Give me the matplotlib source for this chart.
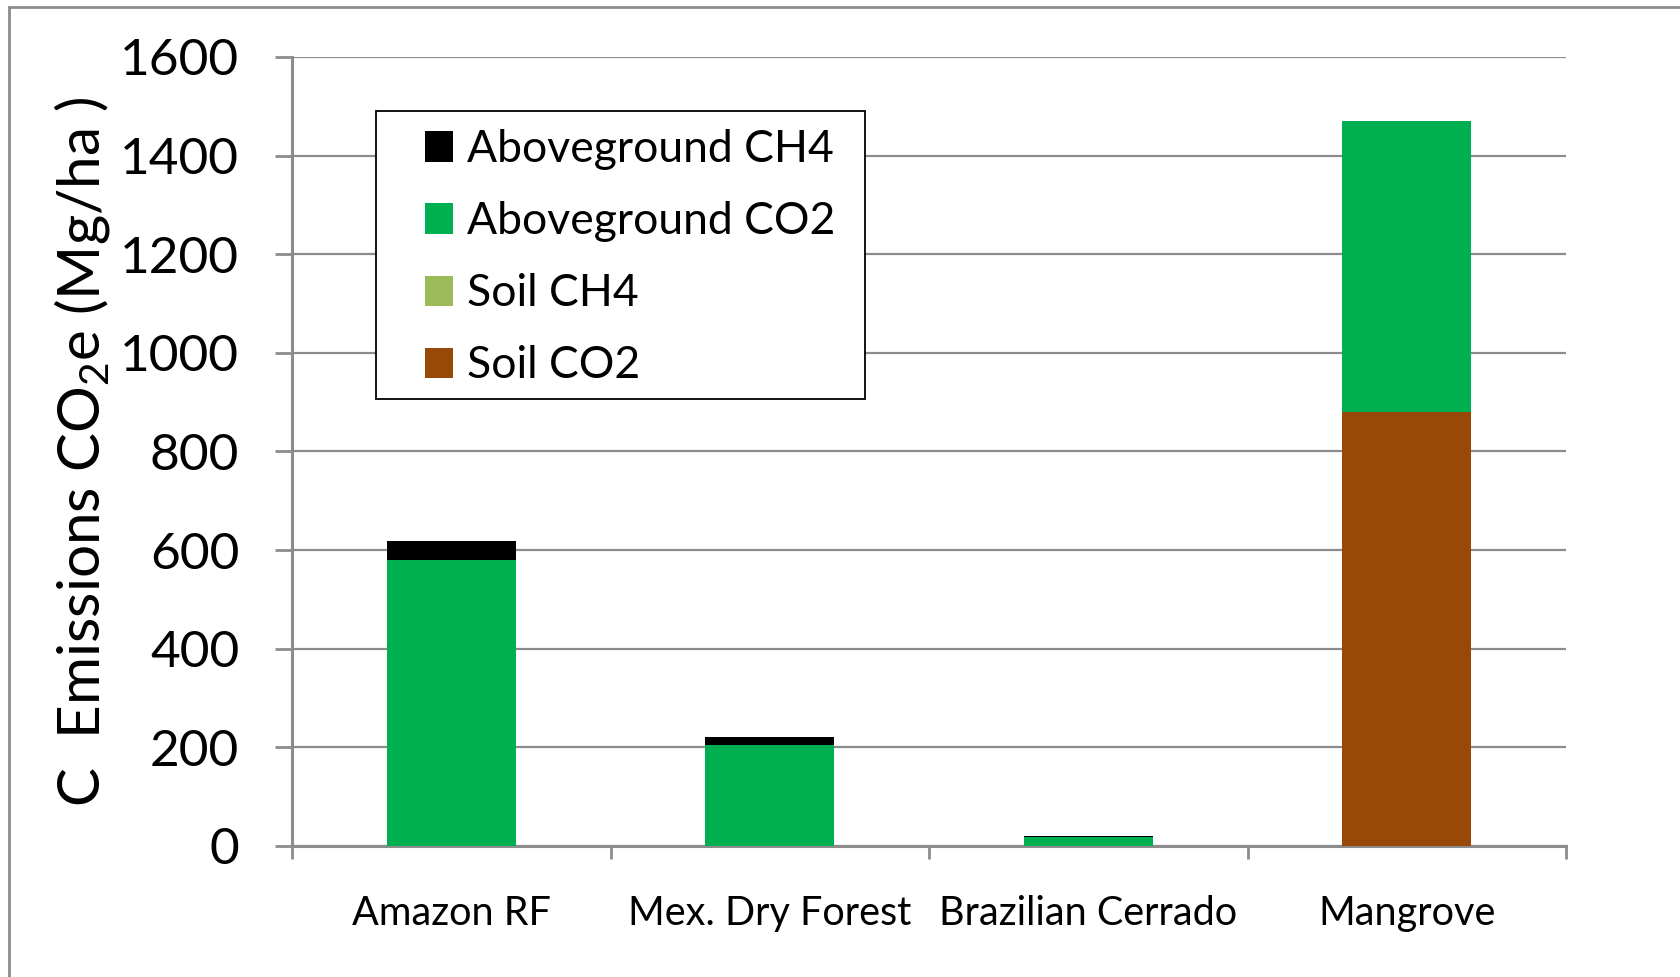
import matplotlib
matplotlib.use("Agg")
import matplotlib.pyplot as plt
from matplotlib.patches import Rectangle, Patch
import numpy as np

plt.rcParams['font.family'] = ['Lato', 'DejaVu Sans']
plt.rcParams['mathtext.fontset'] = 'custom'
plt.rcParams['mathtext.rm'] = 'Lato'
plt.rcParams['mathtext.it'] = 'Lato:italic'
plt.rcParams['mathtext.bf'] = 'Lato:bold'

# Emissions by ecosystem (Mg CO2e per ha)
sites = ["Amazon RF", "Mex. Dry Forest", "Brazilian Cerrado", "Mangrove"]
soil_co2 = [0, 0, 0, 880]
soil_ch4 = [0, 0, 0, 0]
above_co2 = [580, 205, 18, 590]
above_ch4 = [38, 17, 3, 0]
yticks = [0, 200, 400, 600, 800, 1000, 1200, 1400, 1600]

c_above_ch4 = "#000000"
c_above_co2 = "#00b050"
c_soil_ch4 = "#9bbb59"
c_soil_co2 = "#984807"
grey = "#8c8c8c"

W, H = 1680, 977
fig = plt.figure(figsize=(W / 100, H / 100), dpi=100)
ax = fig.add_axes([292 / W, 1 - 846 / H, (1566 - 292) / W, (846 - 57) / H])

x = np.arange(len(sites))
w = 0.405
bottom = np.zeros(len(sites))
for vals, col in [(soil_co2, c_soil_co2), (soil_ch4, c_soil_ch4),
                  (above_co2, c_above_co2), (above_ch4, c_above_ch4)]:
    v = np.array(vals, dtype=float)
    ax.bar(x, v, w, bottom=bottom, color=col, zorder=3)
    bottom += v

ax.set_xlim(-0.5, len(sites) - 0.5)
ax.set_ylim(0, 1600)
ax.set_yticks(yticks)
ax.set_yticklabels([str(t) for t in yticks], fontsize=37)
ax.tick_params(axis='y', length=12, width=2, color=grey, pad=26)
ax.yaxis.grid(True, color=grey, linewidth=1.6, zorder=0)
ax.set_axisbelow(True)

ax.set_xticks(x)
ax.set_xticklabels(sites, fontsize=28.5)
ax.tick_params(axis='x', length=0, pad=35)
ax.set_xticks(np.arange(-0.5, len(sites), 1.0), minor=True)
ax.tick_params(axis='x', which='minor', length=9, width=2, color=grey)

for s in ['top', 'right']:
    ax.spines[s].set_visible(False)
for s in ['left', 'bottom']:
    ax.spines[s].set_color(grey)
    ax.spines[s].set_linewidth(2.2)

ax.set_ylabel(r"C  Emissions CO$_2$e (Mg/ha )", fontsize=42)
ax.yaxis.set_label_coords(-0.141, 0.5)

handles = [Patch(facecolor=c_above_ch4), Patch(facecolor=c_above_co2),
           Patch(facecolor=c_soil_ch4), Patch(facecolor=c_soil_co2)]
labels = ["Aboveground CH4", "Aboveground CO2", "Soil CH4", "Soil CO2"]
leg = fig.legend(handles, labels, loc='upper left',
                 bbox_to_anchor=(425 / W, 1 - 129 / H), borderaxespad=0,
                 fontsize=32, frameon=False,
                 handlelength=0.63, handleheight=0.67, handletextpad=0.31,
                 labelspacing=0.70, borderpad=0)

# legend box
fig.patches.append(Rectangle((376 / W, 1 - 399 / H), (865 - 376) / W, (399 - 111) / H,
                             transform=fig.transFigure, fill=True, facecolor='white',
                             edgecolor='black', linewidth=1.3, zorder=4))
leg.set_zorder(5)

# outer chart-area border
fig.patches.append(Rectangle((9 / W, -0.1), 1.2, 1 - 7 / H + 0.1,
                             transform=fig.transFigure, fill=False,
                             edgecolor=grey, linewidth=2))

fig.savefig("out.png", dpi=100)
